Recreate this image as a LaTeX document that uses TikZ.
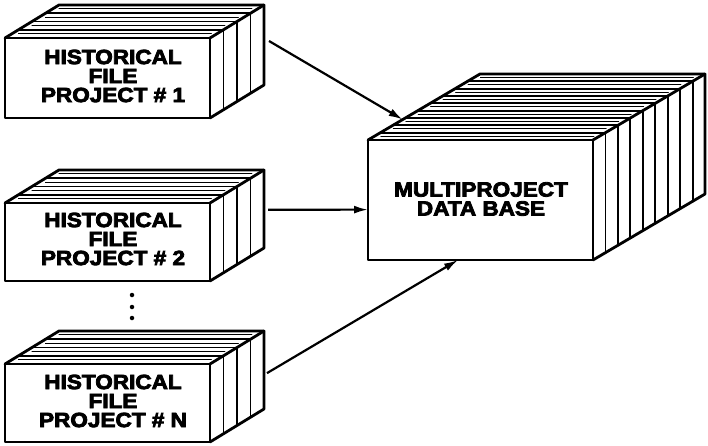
\documentclass[tikz,border=0pt]{standalone}
\usepackage{fontspec}
\newfontfamily\boxfont[UprightFont={* Bold},FakeStretch=1.1,FakeBold=4]{Liberation Sans}
\usetikzlibrary{calc,arrows.meta}

\tikzset{
  boxline/.style={line width=2.8pt, line join=round, line cap=round},
  pageline/.style={line width=1.9pt, line cap=round},
  leafline/.style={line width=0.8pt, line cap=round},
  boxtext/.style={align=center, font=\boxfont\fontsize{20.5}{19}\selectfont, inner sep=0pt},
  bigtext/.style={align=center, font=\boxfont\fontsize{20.5}{19}\selectfont, inner sep=0pt},
  feed/.style={line width=2.2pt, -{Latex[length=14pt,width=8pt]}},
  dotmark/.style={circle, fill, inner sep=0pt, minimum size=4.5pt}
}

% A stack of files seen in oblique view:
% #1 name, #2 #3 front top-left corner, #4 width, #5 height,
% #6 #7 depth offset, #8 number of files in the stack
\newcommand\filestack[8]{%
  \path (#2,#3) coordinate (#1-tl)
        ++(#4,0) coordinate (#1-tr)
        ++(0,#5) coordinate (#1-br)
        ++(-#4,0) coordinate (#1-bl);
  \path (#1-tl) ++(#6,#7) coordinate (#1-btl);
  \path (#1-tr) ++(#6,#7) coordinate (#1-btr);
  \path (#1-br) ++(#6,#7) coordinate (#1-bbr);
  \fill[white] (#1-tl) -- (#1-btl) -- (#1-btr) -- (#1-bbr) -- (#1-br) -- (#1-bl) -- cycle;
  % thin leaf edges on the top of each file
  \foreach \k in {1,...,#8}{%
    \draw[leafline] ($($(#1-tl)!\k/#8-0.45/#8!(#1-btl)$)+(6,0)$)
                 -- ($($(#1-tr)!\k/#8-0.45/#8!(#1-btr)$)+(-6,0)$);
  }
  % boundaries between the files
  \foreach \k in {1,...,\numexpr#8-1\relax}{%
    \draw[pageline] ($(#1-tl)!\k/#8!(#1-btl)$) -- ($(#1-tr)!\k/#8!(#1-btr)$)
                    -- ($(#1-br)!\k/#8!(#1-bbr)$);
  }
  \draw[boxline] (#1-tl) rectangle (#1-br);
  \draw[boxline] (#1-tl) -- (#1-btl) -- (#1-btr) -- (#1-bbr) -- (#1-br);
  \draw[boxline] (#1-tr) -- (#1-btr);
}

\begin{document}
\begin{tikzpicture}[x=1pt, y=-1pt]
  \useasboundingbox[fill=white] (0,0) rectangle (708,446);

  % historical files of the single projects
  \filestack{b1}{5}{38}{205}{80}{54}{-33}{4}
  \filestack{b2}{5}{203}{205}{78}{54}{-33}{4}
  \filestack{b3}{5}{364}{205}{78}{54}{-33}{4}

  % the combined data base
  \filestack{big}{368}{140}{225}{120}{112}{-66}{9}

  \node[boxtext] (t1) at (113,76)  {HISTORICAL\\FILE\\PROJECT \# 1};
  \node[boxtext] (t2) at (113,239) {HISTORICAL\\FILE\\PROJECT \# 2};
  \node[boxtext] (t3) at (113,401) {HISTORICAL\\FILE\\PROJECT \# N};
  \node[bigtext] (tb) at (481,199) {MULTIPROJECT\\DATA BASE};

  % ellipsis between the second and the last project
  \node[dotmark] (d1) at (132,295) {};
  \node[dotmark] (d2) at (132,307) {};
  \node[dotmark] (d3) at (132,318) {};

  % connection points
  \coordinate (o1) at ($($(b1-btr)!0.45!(b1-bbr)$)+(5,0)$);
  \coordinate (o2) at ($($(b2-btr)!0.51!(b2-bbr)$)+(4,0)$);
  \coordinate (o3) at ($($(b3-btr)!0.54!(b3-bbr)$)+(3,0)$);
  \coordinate (i1) at ($(big-tl)!0.31!(big-btl)$);
  \coordinate (i2) at ($(big-tl)!0.58!(big-bl)$);
  \coordinate (i3) at ($(big-bl)!0.40!(big-br)$);

  \draw[feed] (o1) -- (i1);
  \draw[feed] (o2) -- (i2);
  \draw[feed] (o3) -- (i3);
\end{tikzpicture}
\end{document}
